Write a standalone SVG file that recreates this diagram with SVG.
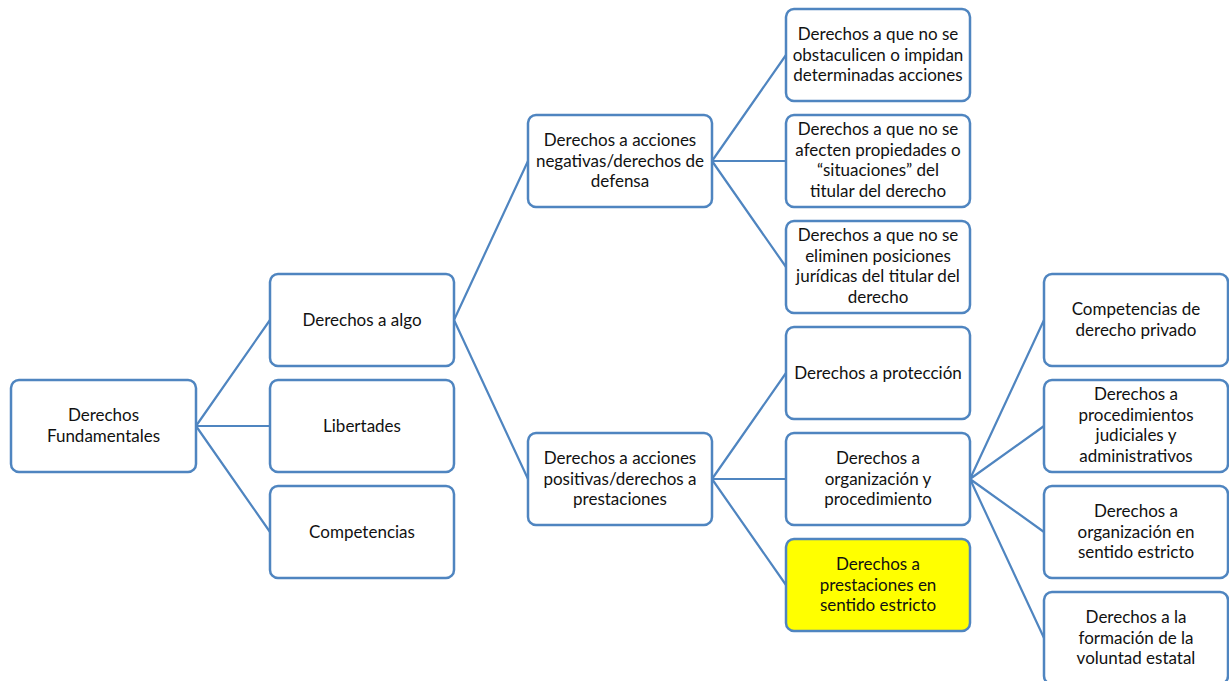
<svg xmlns="http://www.w3.org/2000/svg" width="1229" height="681" viewBox="0 0 1229 681">
<style>
.b{fill:#fff;stroke:#4f85c0;stroke-width:2.5}
.y{fill:#ffff00;stroke:#4f85c0;stroke-width:2.5}
.c{stroke:#4f85c0;stroke-width:2.2;fill:none}
text{font-family:Lato,"Liberation Sans",sans-serif;font-size:17px;fill:#111;text-anchor:middle}
</style>
<rect width="1229" height="681" fill="#fff"/>
<g id="connectors" class="c">
<path d="M196 426L270 320M196 426L270 426M196 426L270 532"/>
<path d="M454 320L528 161M454 320L528 479"/>
<path d="M712 161L786 55M712 161L786 161M712 161L786 267"/>
<path d="M712 479L786 373M712 479L786 479M712 479L786 585"/>
<path d="M970 479L1044 320M970 479L1044 426M970 479L1044 532M970 479L1044 638"/>
</g>
<g id="n1"><rect class="b" x="11" y="380" width="185" height="92" rx="8"/><text x="103.5" y="421">Derechos</text><text x="103.5" y="442">Fundamentales</text></g>
<g id="n2"><rect class="b" x="270" y="274" width="184" height="92" rx="8"/><text x="362" y="326">Derechos a algo</text></g>
<g id="n3"><rect class="b" x="270" y="380" width="184" height="92" rx="8"/><text x="362" y="432">Libertades</text></g>
<g id="n4"><rect class="b" x="270" y="486" width="184" height="92" rx="8"/><text x="362" y="538">Competencias</text></g>
<g id="n5"><rect class="b" x="528" y="115" width="184" height="92" rx="8"/><text x="620" y="146">Derechos a acciones</text><text x="620" y="167">negativas/derechos de</text><text x="620" y="187">defensa</text></g>
<g id="n6"><rect class="b" x="528" y="433" width="184" height="92" rx="8"/><text x="620" y="464">Derechos a acciones</text><text x="620" y="485">positivas/derechos a</text><text x="620" y="505">prestaciones</text></g>
<g id="n7"><rect class="b" x="786" y="9" width="184" height="92" rx="8"/><text x="878" y="40">Derechos a que no se</text><text x="878" y="61">obstaculicen o impidan</text><text x="878" y="81">determinadas acciones</text></g>
<g id="n8"><rect class="b" x="786" y="115" width="184" height="92" rx="8"/><text x="878" y="135">Derechos a que no se</text><text x="878" y="156">afecten propiedades o</text><text x="878" y="176">“situaciones” del</text><text x="878" y="197">titular del derecho</text></g>
<g id="n9"><rect class="b" x="786" y="221" width="184" height="92" rx="8"/><text x="878" y="241">Derechos a que no se</text><text x="878" y="262">eliminen posiciones</text><text x="878" y="282">jurídicas del titular del</text><text x="878" y="303">derecho</text></g>
<g id="n10"><rect class="b" x="786" y="327" width="184" height="92" rx="8"/><text x="878" y="379">Derechos a protección</text></g>
<g id="n11"><rect class="b" x="786" y="433" width="184" height="92" rx="8"/><text x="878" y="464">Derechos a</text><text x="878" y="485">organización y</text><text x="878" y="505">procedimiento</text></g>
<g id="n12"><rect class="y" x="786" y="539" width="184" height="92" rx="8"/><text x="878" y="570">Derechos a</text><text x="878" y="591">prestaciones en</text><text x="878" y="611">sentido estricto</text></g>
<g id="n13"><rect class="b" x="1044" y="274" width="184" height="92" rx="8"/><text x="1136" y="315">Competencias de</text><text x="1136" y="336">derecho privado</text></g>
<g id="n14"><rect class="b" x="1044" y="380" width="184" height="92" rx="8"/><text x="1136" y="400">Derechos a</text><text x="1136" y="421">procedimientos</text><text x="1136" y="441">judiciales y</text><text x="1136" y="462">administrativos</text></g>
<g id="n15"><rect class="b" x="1044" y="486" width="184" height="92" rx="8"/><text x="1136" y="517">Derechos a</text><text x="1136" y="538">organización en</text><text x="1136" y="558">sentido estricto</text></g>
<g id="n16"><rect class="b" x="1044" y="592" width="184" height="92" rx="8"/><text x="1136" y="623">Derechos a la</text><text x="1136" y="644">formación de la</text><text x="1136" y="664">voluntad estatal</text></g>
</svg>
